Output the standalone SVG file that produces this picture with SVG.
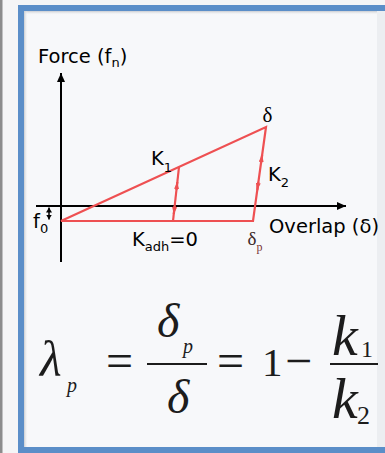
<svg xmlns="http://www.w3.org/2000/svg" width="385" height="453" viewBox="0 0 385 453">
<defs>
<style>
.ax{stroke:#000;stroke-width:2;fill:none}
.rd{stroke:#ee5052;stroke-width:2.2;fill:none;stroke-linejoin:miter}
.lbl{font-family:"DejaVu Sans",Verdana,sans-serif;font-size:19.5px;fill:#000}
.sub{font-size:13px}
.ser{font-family:"Liberation Serif","Times New Roman",serif;fill:#000}
.fm{font-family:"Liberation Serif","Times New Roman",serif;fill:#1c1c1c}
.it{font-style:italic}
</style>
<marker id="ka" viewBox="0 0 9 8" refX="9" refY="4" markerWidth="9" markerHeight="8" markerUnits="userSpaceOnUse" orient="auto"><path d="M0,0 L9,4 L0,8 z" fill="#000"/></marker>
<marker id="fa" viewBox="0 0 5 6" refX="5" refY="3" markerWidth="5" markerHeight="6" markerUnits="userSpaceOnUse" orient="auto-start-reverse"><path d="M0,0 L5,3 L0,6 z" fill="#000"/></marker>
<marker id="ra" viewBox="0 0 7 5" refX="7" refY="2.5" markerWidth="7" markerHeight="5" markerUnits="userSpaceOnUse" orient="auto"><path d="M0,0 L7,2.5 L0,5 z" fill="#ee5052"/></marker>
<linearGradient id="sh" x1="0" y1="0" x2="0" y2="1"><stop offset="0" stop-color="#c9ccd0"/><stop offset="1" stop-color="#f7f8fa" stop-opacity="0"/></linearGradient>
<linearGradient id="shl" x1="0" y1="0" x2="1" y2="0"><stop offset="0" stop-color="#c9ccd0"/><stop offset="1" stop-color="#f7f8fa" stop-opacity="0"/></linearGradient>
</defs>
<g id="background">
<rect x="0" y="0" width="385" height="453" fill="#f5f5f6"/>
<rect x="0" y="0" width="2.5" height="453" fill="#8c8c8c"/>
<rect x="21" y="8" width="400" height="442" fill="#f7f8fa"/>
<rect x="377" y="11" width="8" height="436" fill="#eceef1"/>
<rect x="24" y="11" width="353" height="4" fill="url(#sh)"/>
<rect x="24" y="11" width="4" height="436" fill="url(#shl)"/>
<rect x="21" y="8" width="400" height="442" fill="none" stroke="#5b8ec8" stroke-width="6"/>
</g>
<g id="axes">
<line class="ax" x1="61" y1="262" x2="61" y2="73" marker-end="url(#ka)"/>
<line class="ax" x1="36" y1="206" x2="346" y2="206" marker-end="url(#ka)"/>
<line x1="49" y1="207.5" x2="49" y2="219.5" stroke="#000" stroke-width="1.5" marker-start="url(#fa)" marker-end="url(#fa)"/>
</g>
<g id="connectors">
<path class="rd" d="M61,221 L266,127 L253,221 Z"/>
<line class="rd" x1="179" y1="167" x2="173" y2="221"/>
<path class="rd" d="M176.44,190 L177.33,182" marker-end="url(#ra)" stroke-width="1"/>
<path class="rd" d="M174.67,206 L173.78,214" marker-end="url(#ra)" stroke-width="1"/>
<path class="rd" d="M261.02,163 L262.13,155" marker-end="url(#ra)" stroke-width="1"/>
<path class="rd" d="M258.39,182 L257.29,190" marker-end="url(#ra)" stroke-width="1"/>
</g>
<g id="label-force">
<text class="lbl" x="38" y="63">Force (f<tspan class="sub" dy="4">n</tspan><tspan dy="-4">)</tspan></text>
</g>
<g id="label-overlap">
<text class="lbl" x="269" y="233">Overlap (δ)</text>
</g>
<g id="label-delta">
<text class="ser" x="262.5" y="122" style="font-size:21px">δ</text>
</g>
<g id="label-deltap">
<text class="ser" x="247.5" y="245" style="font-size:19px;fill:#3a2828">δ<tspan dy="6" style="font-size:12px;fill:#7a3434">p</tspan></text>
</g>
<g id="label-k1">
<text class="lbl" x="151" y="165">K<tspan class="sub" dy="7">1</tspan></text>
</g>
<g id="label-k2">
<text class="lbl" x="268" y="181">K<tspan class="sub" dy="6">2</tspan></text>
</g>
<g id="label-kadh">
<text class="lbl" x="132" y="246">K<tspan class="sub" dy="5">adh</tspan><tspan dy="-5">=0</tspan></text>
</g>
<g id="label-f0">
<text class="lbl" x="33" y="228">f<tspan class="sub" dy="5">0</tspan></text>
</g>
<g id="formula">
<text class="fm it" x="40" y="376" style="font-size:50px">λ</text>
<text class="fm it" x="67" y="392" style="font-size:20px">p</text>
<text class="fm" x="106" y="377" style="font-size:48px">=</text>
<text class="fm it" x="157" y="337" style="font-size:48px">δ</text>
<text class="fm it" x="183" y="353" style="font-size:20px">p</text>
<rect x="147" y="363" width="60" height="2" fill="#1c1c1c"/>
<text class="fm it" x="167" y="413" style="font-size:48px">δ</text>
<text class="fm" x="217" y="377" style="font-size:48px">=</text>
<text class="fm" x="262" y="376" style="font-size:41px">1</text>
<text class="fm" x="285" y="377" style="font-size:48px">−</text>
<rect x="330" y="363" width="48" height="2" fill="#1c1c1c"/>
<text class="fm it" x="332" y="355" style="font-size:58px">k</text>
<text class="fm" x="361" y="357" style="font-size:24px">1</text>
<text class="fm it" x="332" y="418" style="font-size:58px">k</text>
<text class="fm" x="357" y="424" style="font-size:26px">2</text>
</g>
</svg>
